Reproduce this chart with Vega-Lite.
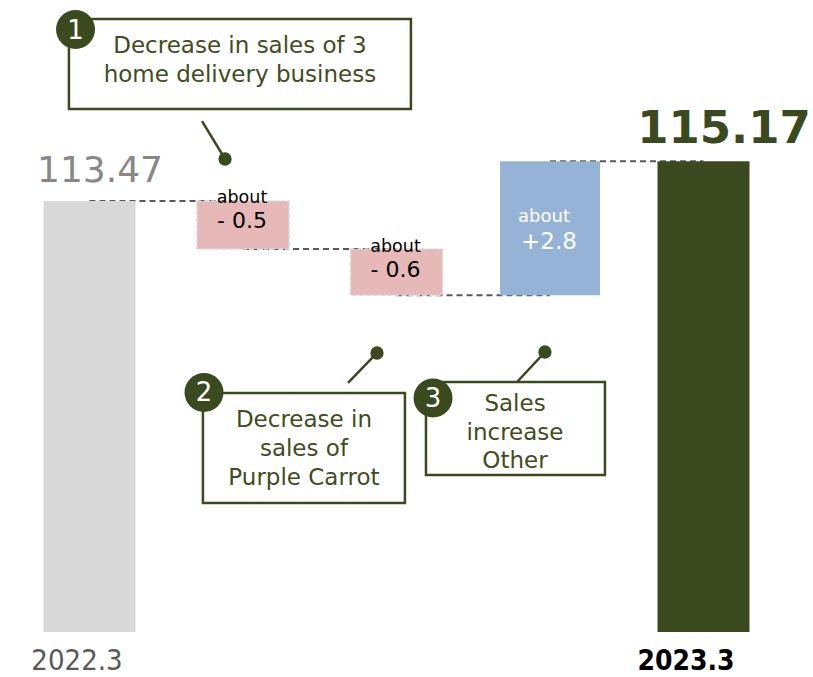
{
  "$schema": "https://vega.github.io/schema/vega-lite/v6.json",
  "width": 813,
  "height": 677,
  "autosize": "none",
  "padding": 0,
  "background": "white",
  "config": {"view": {"stroke": null}, "scale": {"continuousPadding": 0}},
  "datasets": {
    "bars": [
      {"pos": 1, "label": "2022.3", "kind": "base", "start": 0, "end": 68.2, "value": "113.47"},
      {"pos": 2, "kind": "down", "note": "about", "start": 68.2, "end": 60.6, "value": "- 0.5"},
      {"pos": 3, "kind": "down", "note": "about", "start": 60.6, "end": 53.3, "value": "- 0.6"},
      {"pos": 4, "kind": "up", "note": "about", "start": 53.3, "end": 74.5, "value": "+2.8"},
      {"pos": 5, "label": "2023.3", "kind": "total", "start": 0, "end": 74.5, "value": "115.17"}
    ],
    "connectors": [
      {"from": 1, "to": 2, "level": 68.2},
      {"from": 2, "to": 3, "level": 60.6},
      {"from": 3, "to": 4, "level": 53.3},
      {"from": 4, "to": 5, "level": 74.5}
    ],
    "boxes": [
      {"id": 1, "x1": 0.866, "x2": 3.094, "y1": 96.99, "y2": 82.75},
      {"id": 2, "x1": 1.739, "x2": 3.055, "y1": 37.82, "y2": 20.41},
      {"id": 3, "x1": 3.192, "x2": 4.358, "y1": 39.56, "y2": 24.84}
    ],
    "boxtext": [
      {"id": 1, "x": 1.98, "y": 91.61, "text": "Decrease in sales of 3"},
      {"id": 1, "x": 1.98, "y": 87.03, "text": "home delivery business"},
      {"id": 2, "x": 2.397, "y": 32.44, "text": "Decrease in"},
      {"id": 2, "x": 2.397, "y": 27.85, "text": "sales of"},
      {"id": 2, "x": 2.397, "y": 23.26, "text": "Purple Carrot"},
      {"id": 3, "x": 3.772, "y": 34.97, "text": "Sales"},
      {"id": 3, "x": 3.772, "y": 30.38, "text": "increase"},
      {"id": 3, "x": 3.772, "y": 25.95, "text": "Other"}
    ],
    "leaders": [
      {"id": 1, "x1": 1.733, "y1": 80.85, "x2": 1.883, "y2": 74.84},
      {"id": 2, "x1": 2.684, "y1": 39.4, "x2": 2.873, "y2": 44.15},
      {"id": 3, "x1": 3.785, "y1": 39.56, "x2": 3.967, "y2": 44.3}
    ],
    "circles": [
      {"n": "1", "x": 0.909, "y": 95.33},
      {"n": "2", "x": 1.746, "y": 37.9},
      {"n": "3", "x": 3.238, "y": 37.03}
    ]
  },
  "layer": [
    {
      "data": {"name": "connectors"},
      "mark": {"type": "rule", "color": "#595959", "strokeWidth": 2, "strokeDash": [6, 4]},
      "encoding": {
        "x": {"field": "from", "type": "quantitative", "scale": {"domain": [0.41694, 5.71336], "nice": false, "zero": false, "padding": 0}, "axis": null},
        "x2": {"field": "to"},
        "y": {"field": "level", "type": "quantitative", "scale": {"domain": [-7.1203, 100], "nice": false, "zero": false, "padding": 0}, "axis": null}
      }
    },
    {
      "data": {"name": "bars"},
      "transform": [{"filter": "datum.kind == 'base' || datum.kind == 'total'"}],
      "mark": {"type": "bar", "width": 92},
      "encoding": {
        "x": {"field": "pos", "type": "quantitative", "scale": {"domain": [0.41694, 5.71336], "nice": false, "zero": false, "padding": 0}, "axis": null},
        "y": {"field": "start", "type": "quantitative", "scale": {"domain": [-7.1203, 100], "nice": false, "zero": false, "padding": 0}, "axis": null},
        "y2": {"field": "end"},
        "color": {"field": "kind", "type": "nominal", "scale": {"domain": ["base", "total", "down", "up"], "range": ["#d9d9d9", "#3b4a1e", "#e6b9b8", "#95b3d7"]}, "legend": null}
      }
    },
    {
      "data": {"name": "bars"},
      "transform": [{"filter": "datum.kind == 'down'"}],
      "mark": {"type": "bar", "width": 92, "stroke": "#d9d9d9", "strokeWidth": 1.5, "strokeDash": [4, 3]},
      "encoding": {
        "x": {"field": "pos", "type": "quantitative"},
        "y": {"field": "start", "type": "quantitative"},
        "y2": {"field": "end"},
        "color": {"field": "kind", "type": "nominal", "legend": null}
      }
    },
    {
      "data": {"name": "bars"},
      "transform": [{"filter": "datum.kind == 'up'"}],
      "mark": {"type": "bar", "width": 100},
      "encoding": {
        "x": {"field": "pos", "type": "quantitative"},
        "y": {"field": "start", "type": "quantitative"},
        "y2": {"field": "end"},
        "color": {"field": "kind", "type": "nominal", "legend": null}
      }
    },
    {
      "data": {"name": "bars"},
      "transform": [{"filter": "datum.kind == 'down'"}],
      "mark": {"type": "text", "font": "DejaVu Sans", "fontSize": 17.5, "color": "#000000", "align": "center", "baseline": "alphabetic", "dx": -1, "dy": 2.5},
      "encoding": {
        "x": {"field": "pos", "type": "quantitative"},
        "y": {"field": "start", "type": "quantitative"},
        "text": {"field": "note"}
      }
    },
    {
      "data": {"name": "bars"},
      "transform": [{"filter": "datum.kind == 'down'"}],
      "mark": {"type": "text", "font": "DejaVu Sans", "fontSize": 22, "color": "#000000", "align": "center", "baseline": "alphabetic", "dx": -1, "dy": 27.5},
      "encoding": {
        "x": {"field": "pos", "type": "quantitative"},
        "y": {"field": "start", "type": "quantitative"},
        "text": {"field": "value"}
      }
    },
    {
      "data": {"name": "bars"},
      "transform": [{"filter": "datum.kind == 'up'"}],
      "mark": {"type": "text", "font": "DejaVu Sans", "fontSize": 18, "color": "#ffffff", "align": "center", "baseline": "alphabetic", "dx": -6, "dy": 61},
      "encoding": {
        "x": {"field": "pos", "type": "quantitative"},
        "y": {"field": "end", "type": "quantitative"},
        "text": {"field": "note"}
      }
    },
    {
      "data": {"name": "bars"},
      "transform": [{"filter": "datum.kind == 'up'"}],
      "mark": {"type": "text", "font": "DejaVu Sans", "fontSize": 23, "color": "#ffffff", "align": "center", "baseline": "alphabetic", "dx": -1, "dy": 88},
      "encoding": {
        "x": {"field": "pos", "type": "quantitative"},
        "y": {"field": "end", "type": "quantitative"},
        "text": {"field": "value"}
      }
    },
    {
      "data": {"name": "bars"},
      "transform": [{"filter": "datum.kind == 'base'"}],
      "mark": {"type": "text", "font": "DejaVu Sans", "fontSize": 36, "color": "#878787", "align": "center", "baseline": "alphabetic", "dx": 10.5, "dy": -19},
      "encoding": {
        "x": {"field": "pos", "type": "quantitative"},
        "y": {"field": "end", "type": "quantitative"},
        "text": {"field": "value"}
      }
    },
    {
      "data": {"name": "bars"},
      "transform": [{"filter": "datum.kind == 'total'"}],
      "mark": {"type": "text", "font": "DejaVu Sans", "fontSize": 45, "fontWeight": "bold", "color": "#3b4a1e", "align": "center", "baseline": "alphabetic", "dx": 20.5, "dy": -18},
      "encoding": {
        "x": {"field": "pos", "type": "quantitative"},
        "y": {"field": "end", "type": "quantitative"},
        "text": {"field": "value"}
      }
    },
    {
      "data": {"name": "bars"},
      "transform": [{"filter": "datum.kind == 'base'"}],
      "mark": {"type": "text", "font": "DejaVu Sans Condensed, DejaVu Sans", "fontSize": 29, "color": "#595959", "align": "center", "baseline": "alphabetic", "dx": -12.5, "dy": 38},
      "encoding": {
        "x": {"field": "pos", "type": "quantitative"},
        "y": {"field": "start", "type": "quantitative"},
        "text": {"field": "label"}
      }
    },
    {
      "data": {"name": "bars"},
      "transform": [{"filter": "datum.kind == 'total'"}],
      "mark": {"type": "text", "font": "DejaVu Sans Condensed, DejaVu Sans", "fontSize": 28, "fontWeight": "bold", "color": "#000000", "align": "center", "baseline": "alphabetic", "dx": -17.5, "dy": 38},
      "encoding": {
        "x": {"field": "pos", "type": "quantitative"},
        "y": {"field": "start", "type": "quantitative"},
        "text": {"field": "label"}
      }
    },
    {
      "mark": {"type": "rule", "color": "#d9d9d9", "strokeWidth": 2},
      "encoding": {
        "x": {"datum": 0.469, "type": "quantitative"},
        "x2": {"datum": 5.433},
        "y": {"datum": 0, "type": "quantitative"}
      }
    },
    {
      "data": {"name": "boxes"},
      "mark": {"type": "rect", "fill": "#ffffff", "stroke": "#3b4a1e", "strokeWidth": 2.5},
      "encoding": {
        "x": {"field": "x1", "type": "quantitative"},
        "x2": {"field": "x2"},
        "y": {"field": "y1", "type": "quantitative"},
        "y2": {"field": "y2"}
      }
    },
    {
      "data": {"name": "boxtext"},
      "mark": {"type": "text", "font": "DejaVu Sans", "fontSize": 23, "color": "#3f4d20", "align": "center", "baseline": "alphabetic"},
      "encoding": {
        "x": {"field": "x", "type": "quantitative"},
        "y": {"field": "y", "type": "quantitative"},
        "text": {"field": "text"}
      }
    },
    {
      "data": {"name": "leaders"},
      "mark": {"type": "rule", "color": "#3b4a1e", "strokeWidth": 2.5},
      "encoding": {
        "x": {"field": "x1", "type": "quantitative"},
        "x2": {"field": "x2"},
        "y": {"field": "y1", "type": "quantitative"},
        "y2": {"field": "y2"}
      }
    },
    {
      "data": {"name": "leaders"},
      "mark": {"type": "point", "shape": "circle", "filled": true, "opacity": 1, "color": "#3b4a1e", "size": 177},
      "encoding": {
        "x": {"field": "x2", "type": "quantitative"},
        "y": {"field": "y2", "type": "quantitative"}
      }
    },
    {
      "data": {"name": "circles"},
      "mark": {"type": "point", "shape": "circle", "filled": true, "opacity": 1, "color": "#3b4a1e", "size": 1520},
      "encoding": {
        "x": {"field": "x", "type": "quantitative"},
        "y": {"field": "y", "type": "quantitative"}
      }
    },
    {
      "data": {"name": "circles"},
      "mark": {"type": "text", "font": "DejaVu Sans", "fontSize": 26, "color": "#ffffff", "align": "center", "baseline": "middle", "dy": 1},
      "encoding": {
        "x": {"field": "x", "type": "quantitative"},
        "y": {"field": "y", "type": "quantitative"},
        "text": {"field": "n"}
      }
    }
  ]
}
